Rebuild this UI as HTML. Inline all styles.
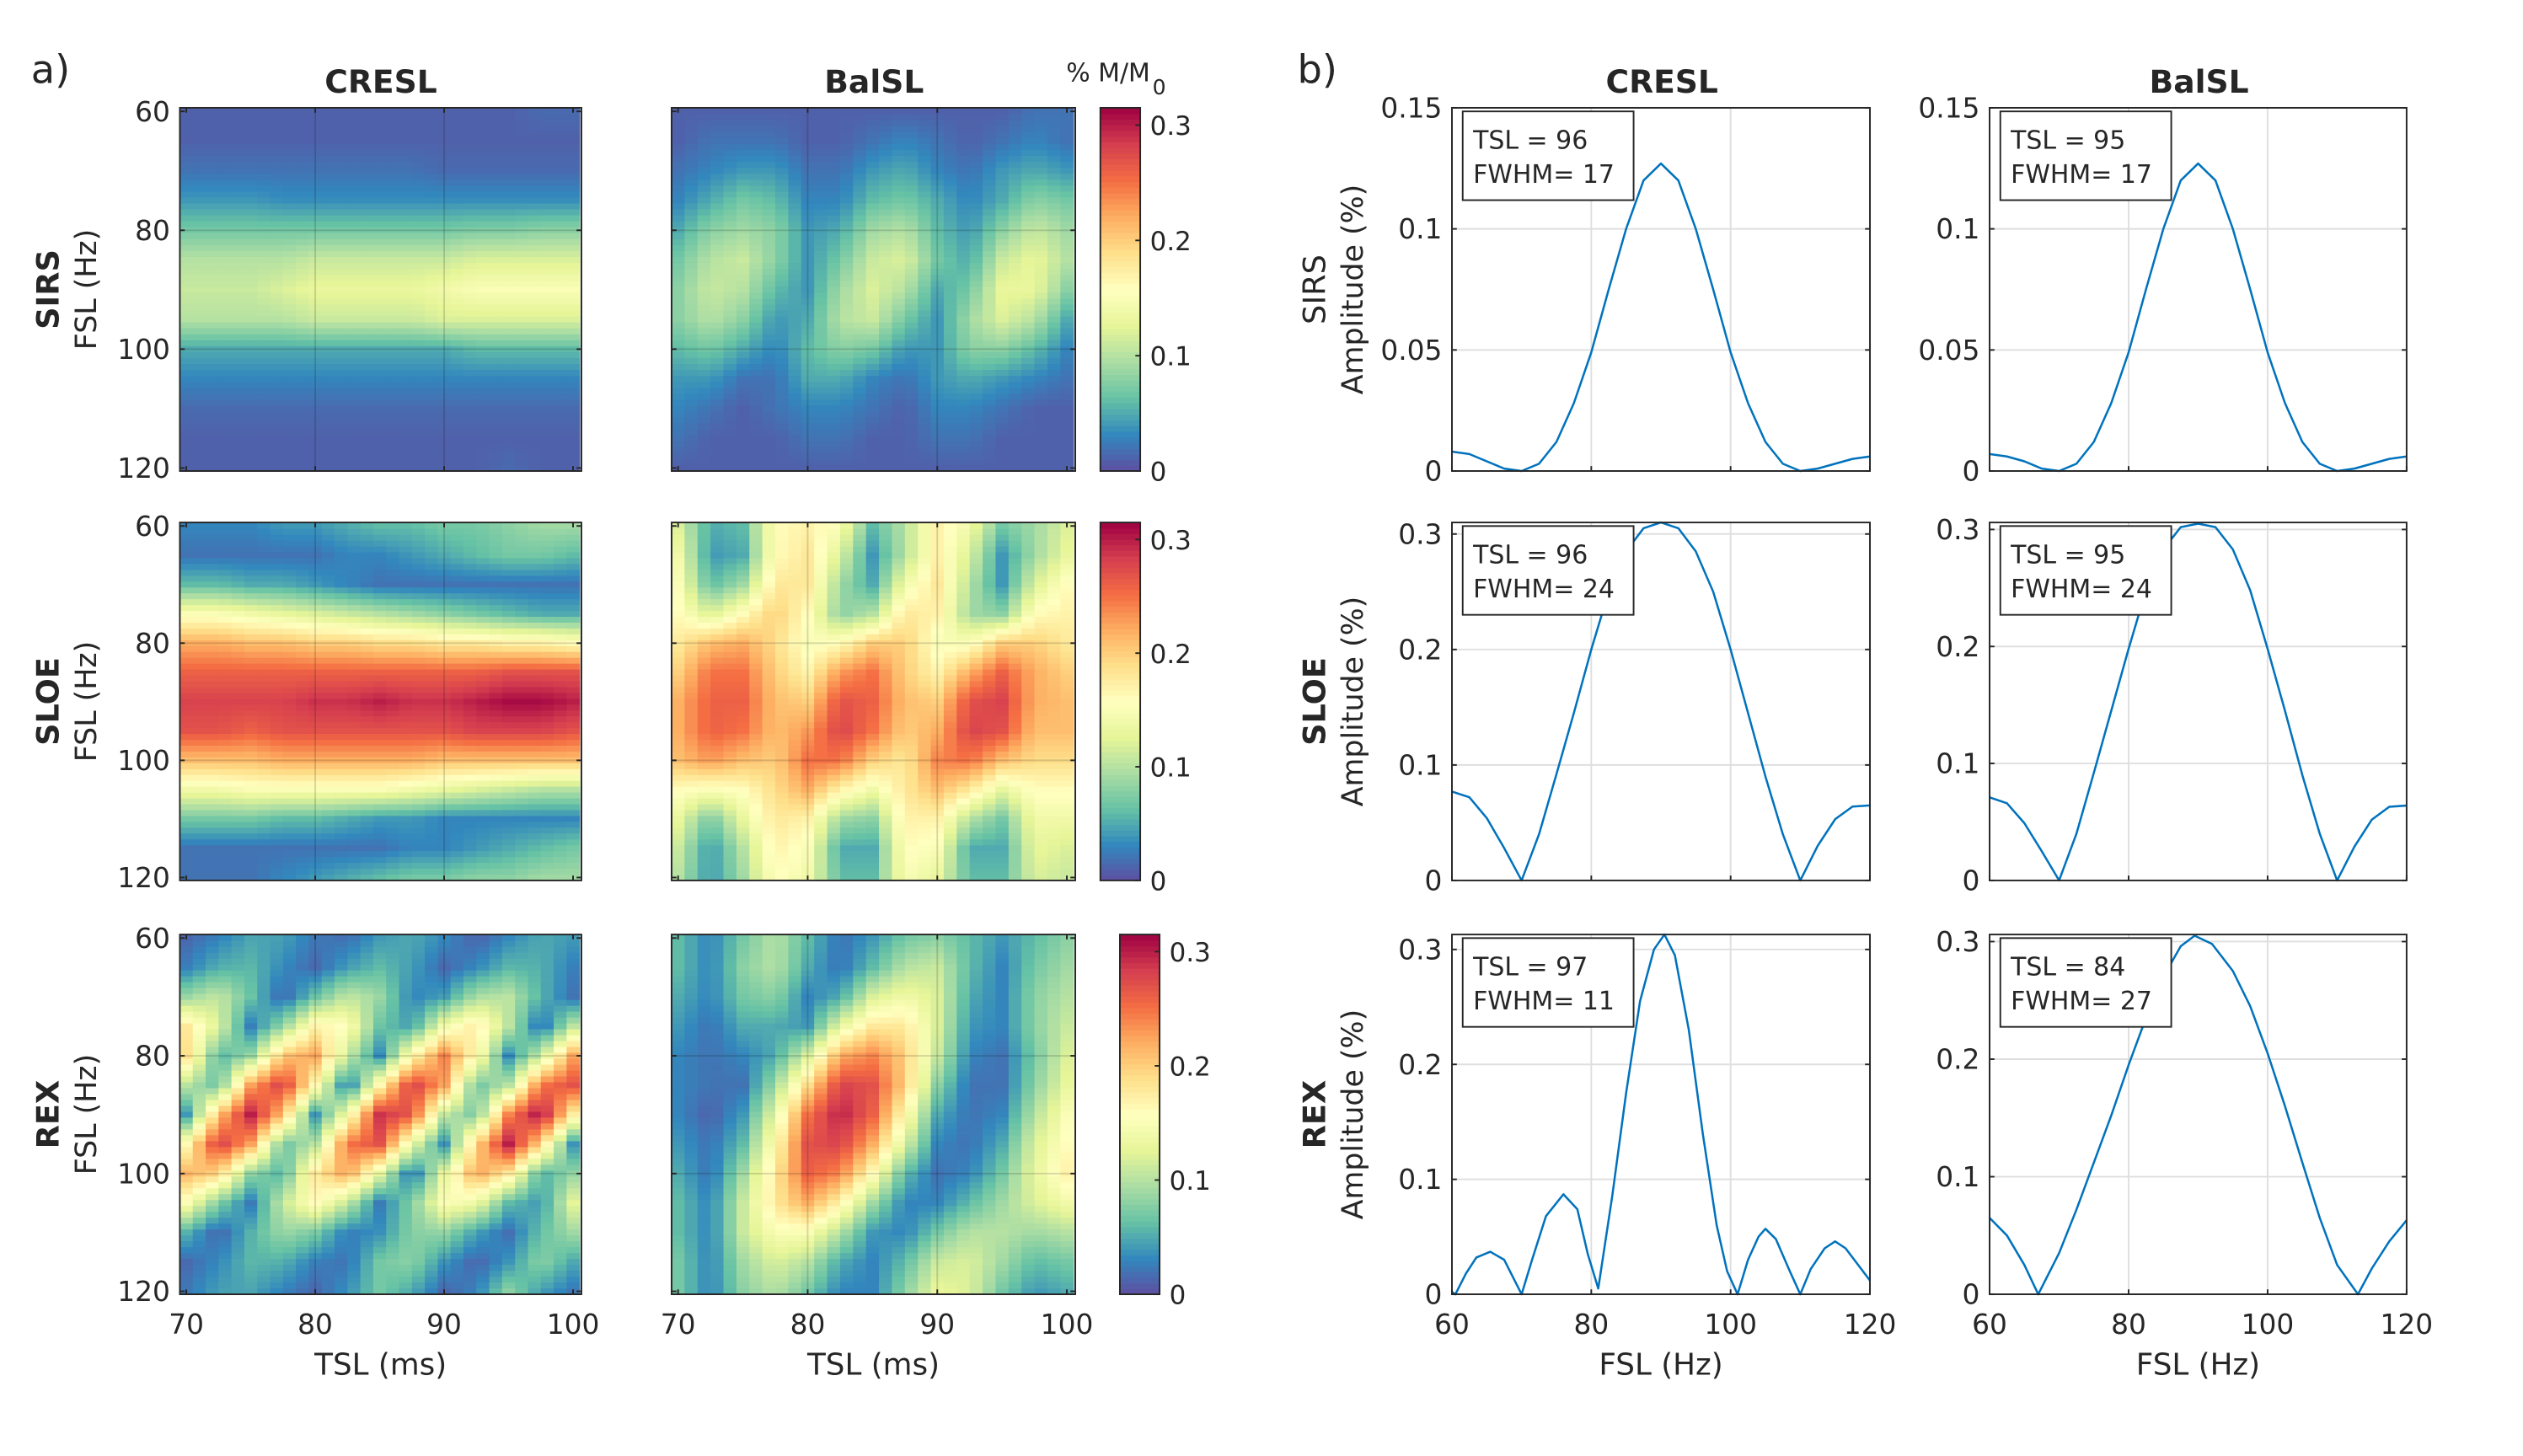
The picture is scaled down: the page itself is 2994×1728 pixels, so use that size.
<!DOCTYPE html>
<html><head><meta charset="utf-8"><style>
html,body{margin:0;padding:0;background:#fff}
svg{display:block}
text{font-family:"DejaVu Sans","Liberation Sans",sans-serif;fill:#262626}
</style></head><body>
<svg id="fig" width="2994" height="1728" viewBox="0 0 1550 894" preserveAspectRatio="none" xmlns="http://www.w3.org/2000/svg"></svg>
<script>
// ---------- DATA ----------
const tslCats = [70,72.5,75,77.5,80,82.5,85,87.5,90,92.5,95,97.5,100];
const fslCats = [60,65,70,75,80,85,90,95,100,105,110,115,120];
const heatTickX = [70,80,90,100];
const heatTickY = [60,80,100,120];
const cbarTicks = [0,0.1,0.2,0.3];
const lineTickX = [60,80,100,120];
const sirsTicks = [0,0.05,0.1,0.15];
const bigTicks = [0,0.1,0.2,0.3];

const sirsCresl = [
[.01,.01,.01,.01,.01,.01,.01,.01,.01,.01,.01,.015,.015],
[.01,.01,.01,.01,.01,.01,.01,.01,.01,.01,.01,.01,.01],
[.02,.02,.02,.02,.02,.02,.02,.02,.015,.015,.015,.015,.015],
[.04,.04,.04,.035,.035,.035,.035,.035,.035,.035,.035,.035,.035],
[.07,.07,.07,.07,.07,.07,.07,.07,.07,.075,.075,.08,.08],
[.10,.10,.10,.10,.11,.11,.11,.11,.11,.12,.12,.12,.12],
[.11,.11,.11,.12,.13,.13,.13,.13,.14,.15,.15,.15,.15],
[.10,.10,.10,.10,.11,.11,.11,.11,.12,.12,.12,.12,.12],
[.05,.05,.05,.05,.05,.05,.05,.05,.05,.06,.06,.06,.06],
[.03,.03,.03,.03,.03,.03,.03,.03,.03,.03,.03,.03,.03],
[.015,.015,.015,.015,.015,.015,.015,.015,.015,.015,.015,.015,.015],
[.01,.01,.01,.01,.01,.01,.01,.01,.01,.01,.01,.01,.01],
[.01,.01,.01,.01,.01,.01,.01,.01,.01,.01,.015,.01,.01]];
const sirsBal = [
[.01,.01,.01,.01,.01,.01,.01,.01,.01,.01,.01,.02,.02],
[.01,.02,.02,.02,.01,.01,.02,.03,.02,.01,.02,.03,.02],
[.02,.03,.04,.04,.02,.02,.04,.05,.03,.02,.04,.05,.04],
[.03,.05,.07,.06,.03,.03,.06,.07,.05,.03,.05,.08,.07],
[.05,.08,.09,.08,.04,.05,.09,.10,.06,.04,.08,.11,.09],
[.07,.10,.11,.08,.04,.07,.11,.12,.07,.05,.11,.13,.10],
[.08,.11,.10,.06,.04,.09,.12,.10,.05,.07,.13,.13,.08],
[.08,.10,.08,.04,.05,.10,.11,.07,.04,.09,.12,.10,.05],
[.06,.07,.05,.03,.06,.08,.07,.04,.04,.08,.08,.06,.03],
[.04,.04,.02,.02,.05,.05,.03,.02,.04,.05,.04,.03,.02],
[.03,.02,.01,.02,.03,.03,.02,.01,.03,.03,.02,.01,.01],
[.02,.01,.01,.01,.02,.02,.01,.01,.02,.02,.01,.01,.01],
[.01,.01,.01,.01,.01,.01,.01,.01,.01,.01,.01,.01,.01]];
const sloeCresl = [
[.03,.03,.03,.04,.04,.05,.06,.06,.07,.07,.08,.09,.09],
[.02,.02,.02,.02,.02,.03,.03,.04,.05,.06,.07,.07,.06],
[.06,.06,.05,.05,.04,.03,.02,.02,.02,.02,.02,.02,.02],
[.15,.15,.14,.13,.12,.11,.10,.09,.08,.07,.06,.05,.05],
[.22,.22,.21,.21,.20,.20,.19,.19,.18,.18,.17,.17,.16],
[.26,.26,.26,.26,.26,.26,.26,.26,.26,.26,.27,.27,.27],
[.28,.28,.28,.28,.29,.29,.30,.29,.29,.30,.31,.31,.30],
[.27,.27,.26,.27,.27,.27,.27,.27,.27,.28,.28,.28,.27],
[.21,.21,.21,.22,.22,.22,.22,.22,.21,.21,.21,.21,.21],
[.14,.14,.15,.15,.15,.15,.15,.14,.13,.12,.11,.10,.10],
[.07,.07,.07,.06,.06,.05,.04,.04,.03,.03,.03,.03,.03],
[.02,.02,.02,.02,.02,.02,.02,.03,.03,.04,.05,.06,.07],
[.02,.02,.02,.03,.04,.05,.06,.07,.07,.08,.08,.09,.09]];
const sloeBal = [
[.12,.05,.06,.16,.17,.15,.06,.10,.17,.14,.07,.09,.12],
[.14,.04,.05,.16,.18,.12,.04,.10,.17,.12,.04,.09,.13],
[.15,.06,.09,.18,.18,.09,.05,.14,.18,.10,.04,.12,.16],
[.16,.12,.16,.20,.16,.08,.10,.18,.17,.09,.08,.16,.17],
[.18,.21,.22,.19,.15,.16,.20,.20,.15,.15,.20,.20,.18],
[.20,.25,.25,.20,.17,.23,.25,.20,.17,.22,.26,.22,.20],
[.22,.26,.26,.21,.20,.27,.26,.21,.20,.27,.28,.22,.21],
[.22,.26,.25,.21,.23,.28,.25,.20,.22,.28,.27,.21,.21],
[.21,.23,.21,.20,.25,.25,.20,.18,.24,.25,.21,.19,.19],
[.16,.15,.16,.19,.22,.17,.14,.18,.21,.18,.13,.16,.16],
[.13,.07,.13,.18,.17,.09,.08,.17,.17,.10,.07,.14,.14],
[.11,.04,.10,.17,.15,.05,.05,.16,.15,.05,.05,.13,.12],
[.10,.04,.09,.16,.14,.06,.06,.15,.13,.06,.06,.12,.11]];
const rexCresl = [
[.014,.028,.047,.044,.023,.018,.041,.049,.032,.011,.032,.049,.041],
[.027,.053,.057,.032,.015,.043,.060,.043,.015,.032,.057,.053,.027],
[.087,.108,.065,.013,.065,.108,.087,.030,.043,.095,.103,.054,.020],
[.180,.122,.027,.085,.168,.155,.066,.044,.141,.177,.104,.015,.104],
[.187,.056,.086,.206,.224,.111,.033,.162,.240,.162,.033,.111,.224],
[.102,.066,.226,.284,.164,.018,.164,.284,.226,.066,.102,.248,.270],
[.040,.208,.300,.208,.040,.142,.289,.265,.109,.070,.241,.310,.175],
[.164,.284,.226,.066,.102,.248,.270,.133,.038,.195,.300,.195,.038],
[.215,.197,.083,.054,.179,.226,.131,.017,.131,.226,.179,.054,.083],
[.150,.076,.025,.109,.160,.109,.025,.076,.150,.138,.060,.040,.126],
[.054,.012,.054,.088,.072,.026,.036,.078,.084,.045,.018,.063,.090],
[.015,.032,.057,.053,.027,.020,.070,.080,.038,.012,.038,.080,.049],
[.023,.044,.047,.028,.014,.036,.070,.050,.014,.028,.080,.044,.023]];
const rexBal = [
[.06,.03,.07,.10,.06,.02,.04,.07,.08,.06,.04,.06,.08],
[.06,.03,.08,.10,.05,.02,.06,.10,.11,.06,.03,.07,.09],
[.05,.03,.07,.08,.03,.05,.12,.14,.12,.05,.03,.08,.10],
[.04,.02,.05,.05,.04,.13,.18,.18,.12,.04,.03,.08,.11],
[.03,.02,.03,.05,.12,.22,.24,.20,.11,.03,.02,.07,.12],
[.03,.02,.02,.09,.19,.28,.27,.20,.08,.02,.02,.08,.13],
[.03,.01,.04,.13,.25,.30,.26,.16,.05,.02,.03,.10,.15],
[.04,.02,.06,.16,.27,.28,.22,.12,.03,.02,.05,.12,.16],
[.05,.02,.09,.18,.26,.24,.16,.06,.02,.03,.07,.13,.17],
[.06,.03,.11,.18,.22,.17,.09,.03,.03,.06,.09,.12,.14],
[.06,.03,.11,.15,.15,.10,.04,.03,.07,.10,.10,.09,.10],
[.07,.03,.09,.12,.10,.05,.03,.06,.11,.12,.09,.06,.07],
[.07,.03,.08,.10,.07,.03,.03,.08,.13,.12,.07,.04,.05]];

const sirsCreslX = [60,62.5,65,67.5,70,72.5,75,77.5,80,82.5,85,87.5,90,92.5,95,97.5,100,102.5,105,107.5,110,112.5,115,117.5,120];
const sirsCreslY = [.008,.007,.004,.001,0,.003,.012,.028,.049,.075,.100,.120,.127,.120,.100,.075,.049,.028,.012,.003,0,.001,.003,.005,.006];
const sirsBalX = [60,62.5,65,67.5,70,72.5,75,77.5,80,82.5,85,87.5,90,92.5,95,97.5,100,102.5,105,107.5,110,112.5,115,117.5,120];
const sirsBalY = [.007,.006,.004,.001,0,.003,.012,.028,.049,.075,.100,.120,.127,.120,.100,.075,.049,.028,.012,.003,0,.001,.003,.005,.006];
const sloeCreslX = [60,62.5,65,67.5,70,72.5,75,77.5,80,82.5,85,87.5,90,92.5,95,97.5,100,102.5,105,107.5,110,112.5,115,117.5,120];
const sloeCreslY = [.077,.072,.054,.028,0,.040,.092,.145,.200,.250,.285,.305,.310,.305,.285,.250,.200,.145,.090,.040,0,.030,.053,.064,.065];
const sloeBalX = [60,62.5,65,67.5,70,72.5,75,77.5,80,82.5,85,87.5,90,92.5,95,97.5,100,102.5,105,107.5,110,112.5,115,117.5,120];
const sloeBalY = [.071,.066,.049,.025,0,.040,.092,.145,.198,.248,.283,.302,.305,.302,.283,.248,.198,.145,.090,.040,0,.029,.052,.063,.064];
const rexCreslX = [60,60.5,62,63.5,65.5,67.5,69,70,71.5,73.5,76,78,79.5,81,83,85,87,89,90.5,92,94,96,98,99.5,101,102.5,104,105,106.5,108.5,110,111.5,113.5,115,116.5,118,120];
const rexCreslY = [.002,0,.018,.032,.037,.030,.012,0,.030,.068,.087,.074,.035,.005,.085,.175,.255,.300,.313,.295,.230,.140,.060,.020,0,.030,.050,.057,.048,.020,0,.022,.040,.046,.040,.028,.012];
const rexBalX = [60,62.5,65,67,70,72.5,75,77.5,80,82.5,85,87.5,89.5,92,95,97.5,100,102.5,105,107.5,110,113,115,117.5,120];
const rexBalY = [.065,.050,.025,0,.035,.072,.112,.152,.195,.235,.270,.296,.305,.298,.275,.245,.205,.160,.112,.065,.025,0,.022,.045,.063];

// ---------- RENDER ----------
const NS='http://www.w3.org/2000/svg';
const svg=document.getElementById('fig');
function el(tag,attrs,parent){const e=document.createElementNS(NS,tag);for(const k in attrs)e.setAttribute(k,attrs[k]);(parent||svg).appendChild(e);return e;}
function txt(s,x,y,size,attrs,parent){const t=el('text',Object.assign({x:x,y:y,'font-size':size},attrs||{}),parent);t.textContent=s;return t;}
const stops=['#5e4fa2','#3288bd','#66c2a5','#abdda4','#e6f598','#ffffbf','#fee08b','#fdae61','#f46d43','#d53e4f','#9e0142'];
function hex(h){return [parseInt(h.substr(1,2),16),parseInt(h.substr(3,2),16),parseInt(h.substr(5,2),16)];}
const CMAX=0.315;
function cmap(v){let f=Math.max(0,Math.min(1,v/CMAX))*(stops.length-1);const i=Math.min(stops.length-2,Math.floor(f));const t=f-i;const a=hex(stops[i]),b=hex(stops[i+1]);return 'rgb('+a.map((c,k)=>Math.round(c+(b[k]-c)*t)).join(',')+')';}
function locate(arr,v){if(v<=arr[0])return [0,0];const n=arr.length-1;if(v>=arr[n])return [n-1,1];let i=0;while(arr[i+1]<v)i++;return [i,(v-arr[i])/(arr[i+1]-arr[i])];}
function sample(data,tsl,fsl){const [j,u]=locate(tslCats,tsl);const [i,w]=locate(fslCats,fsl);
  const a=data[i][j],b=data[i][j+1],c=data[i+1][j],d=data[i+1][j+1];
  return (a*(1-u)+b*u)*(1-w)+(c*(1-u)+d*u)*w;}

const rowsY=[[66.2,289.2],[320.8,540.6],[573.8,794.7]];
const rowNames=['SIRS','SLOE','REX'];
const heatCols=[[110.5,357.2],[412.6,660.6]];
const lineCols=[[892,1148.8],[1222.3,1478.5]];
const cbarX=[[676,24.5],[676,24.5],[688,24.4]];
const heatData=[[sirsCresl,sirsBal],[sloeCresl,sloeBal],[rexCresl,rexBal]];
const lineData=[[[sirsCreslX,sirsCreslY],[sirsBalX,sirsBalY]],[[sloeCreslX,sloeCreslY],[sloeBalX,sloeBalY]],[[rexCreslX,rexCreslY],[rexBalX,rexBalY]]];
const yMaxes=[[0.15,0.15],[0.31,0.306],[0.313,0.306]];
const legends=[[['96','17'],['95','17']],[['96','24'],['95','24']],[['97','11'],['84','27']]];
const colNames=['cresl','balsl'];
const TX0=69.5,TX1=100.65,FY0=59.4,FY1=120.5;
const XTICK_Y=819, XTITLE_Y=844;

let t;
t=txt('a)',19,51,24);  
t=txt('b)',797,51,24);  
[['CRESL',234],['BalSL',537],['CRESL',1021],['BalSL',1351]].forEach((c,i)=>{t=txt(c[0],c[1],57,19.5,{'text-anchor':'middle','font-weight':'bold'});

});
t=txt('% M/M',655,50,15.5);  
t=txt('0',708,58,13);  

rowsY.forEach((ry,r)=>{
  const [y0,y1]=ry;
  const yH=v=>y0+(v-FY0)/(FY1-FY0)*(y1-y0);
  heatCols.forEach((hc,c)=>{
    const [x0,x1]=hc;
    const xH=v=>x0+(v-TX0)/(TX1-TX0)*(x1-x0);
    const g=el('g',{});
    
    
    const data=heatData[r][c];
    for(let f=60;f<=120;f++){
      for(let tt=70;tt<=100;tt++){
        const v=sample(data,tt,f);
        const a=Math.max(FY0,f-0.5),b=Math.min(FY1,f+0.5);
        const p=Math.max(TX0,tt-0.5),q=Math.min(TX1,tt+0.5);
        const rc=el('rect',{x:xH(p).toFixed(2),y:yH(a).toFixed(2),width:(xH(q)-xH(p)+0.4).toFixed(2),height:(yH(b)-yH(a)+0.4).toFixed(2),fill:cmap(v)},g);
        
        
      }
    }
    [80,90].forEach(v=>el('line',{x1:xH(v),x2:xH(v),y1:y0,y2:y1,stroke:'#000','stroke-opacity':0.15,'stroke-width':1},g));
    [80,100].forEach(v=>el('line',{x1:x0,x2:x1,y1:yH(v),y2:yH(v),stroke:'#000','stroke-opacity':0.15,'stroke-width':1},g));
    el('rect',{x:x0,y:y0,width:x1-x0,height:y1-y0,fill:'none',stroke:'#262626','stroke-width':1},g);
    heatTickX.forEach(v=>{el('line',{x1:xH(v),x2:xH(v),y1:y1,y2:y1-3,stroke:'#262626'},g);el('line',{x1:xH(v),x2:xH(v),y1:y0,y2:y0+3,stroke:'#262626'},g);
      if(r===2){const tl=txt(String(v),xH(v),XTICK_Y,17,{'text-anchor':'middle'},g);}});
    heatTickY.forEach(v=>{el('line',{x1:x0,x2:x0+3,y1:yH(v),y2:yH(v),stroke:'#262626'},g);el('line',{x1:x1,x2:x1-3,y1:yH(v),y2:yH(v),stroke:'#262626'},g);
      if(c===0){const tl=txt(String(v),x0-6,yH(v)+6,17,{'text-anchor':'end'},g);}});
    if(r===2){const xl=txt('TSL (ms)',(x0+x1)/2,XTITLE_Y,18.5,{'text-anchor':'middle'},g);}
  });
  const my=(y0+y1)/2;
  t=txt(rowNames[r],36,my,19,{'text-anchor':'middle','font-weight':'bold',transform:'rotate(-90 36 '+my+')'});
   
  t=txt('FSL (Hz)',59,my,18,{'text-anchor':'middle',transform:'rotate(-90 59 '+my+')'});
   
  const cbx=cbarX[r][0], cbw=cbarX[r][1];
  const cb=el('g',{});
  
  
  const yC=v=>y1-(v/CMAX)*(y1-y0);
  for(let k=0;k<64;k++){const v0=k/64*CMAX,v1=(k+1)/64*CMAX;el('rect',{x:cbx,y:yC(v1),width:cbw,height:yC(v0)-yC(v1)+0.3,fill:cmap((v0+v1)/2)},cb);}
  el('rect',{x:cbx,y:y0,width:cbw,height:y1-y0,fill:'none',stroke:'#262626'},cb);
  cbarTicks.forEach(v=>{el('line',{x1:cbx+cbw,x2:cbx+cbw-3,y1:yC(v),y2:yC(v),stroke:'#262626'},cb);
    const tl=txt(String(v),cbx+cbw+6,yC(v)+6,16,{},cb);});
  const ticks=r===0?sirsTicks:bigTicks;
  lineCols.forEach((lc,c)=>{
    const [x0,x1]=lc;
    const ymax=yMaxes[r][c];
    const xL=v=>x0+(v-60)/60*(x1-x0);
    const yL=v=>y1-(v/ymax)*(y1-y0);
    const g=el('g',{});
    
    
    lineTickX.forEach(v=>el('line',{x1:xL(v),x2:xL(v),y1:y0,y2:y1,stroke:'#dfdfdf','stroke-width':1},g));
    ticks.forEach(v=>el('line',{x1:x0,x2:x1,y1:yL(v),y2:yL(v),stroke:'#dfdfdf','stroke-width':1},g));
    const [xs,ys]=lineData[r][c];
    const pts=xs.map((x,i)=>xL(x).toFixed(2)+','+Math.max(y0,yL(ys[i])).toFixed(2)).join(' ');
    const pl=el('polyline',{points:pts,fill:'none',stroke:'#0072bd','stroke-width':1.3,'stroke-linejoin':'round'},g);
    
    
    el('rect',{x:x0,y:y0,width:x1-x0,height:y1-y0,fill:'none',stroke:'#262626','stroke-width':1},g);
    lineTickX.forEach(v=>{el('line',{x1:xL(v),x2:xL(v),y1:y1,y2:y1-3,stroke:'#262626'},g);
      if(r===2){const tl=txt(String(v),xL(v),XTICK_Y,17,{'text-anchor':'middle'},g);}});
    ticks.forEach(v=>{el('line',{x1:x0,x2:x0+3,y1:yL(v),y2:yL(v),stroke:'#262626'},g);el('line',{x1:x1,x2:x1-3,y1:yL(v),y2:yL(v),stroke:'#262626'},g);
      const tl=txt(String(v),x0-6,yL(v)+6,17,{'text-anchor':'end'},g);});
    const lg=el('g',{},g);
    
    
    el('rect',{x:x0+6.6,y:y0+2.2,width:105,height:54.5,fill:'#fff',stroke:'#262626','stroke-width':1},lg);
    txt('TSL = '+legends[r][c][0],x0+13,y0+25,15.5,{},lg);
    txt('FWHM= '+legends[r][c][1],x0+13,y0+46,15.5,{},lg);
    if(r===2){const xl=txt('FSL (Hz)',(x0+x1)/2,XTITLE_Y,18.5,{'text-anchor':'middle'},g);}
  });
  t=txt(rowNames[r],814,my,19,{'text-anchor':'middle','font-weight':r===0?'normal':'bold',transform:'rotate(-90 814 '+my+')'});
   
  t=txt('Amplitude (%)',837,my,18,{'text-anchor':'middle',transform:'rotate(-90 837 '+my+')'});
   
});
</script>
</body></html>
